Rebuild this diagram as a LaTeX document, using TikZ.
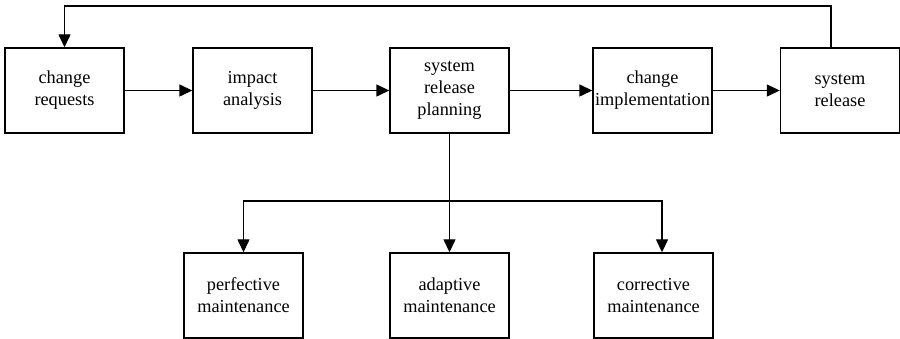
\documentclass[tikz,border=0pt]{standalone}
\usepackage{fontspec}
\setmainfont{Liberation Serif}
\usetikzlibrary{arrows.meta,calc}
\begin{document}
\begin{tikzpicture}[x=1pt,y=1pt,
  box/.style={draw,line width=1.4pt,minimum width=119pt,minimum height=85pt,inner sep=0pt,align=center,
    font=\fontsize{18.3}{22}\selectfont},
  conn/.style={line width=1.4pt},
  arr/.style={conn,-{Triangle[length=13pt,width=12pt]}}]
\useasboundingbox (0,0) rectangle (900,339);
% top row (y = 339 - 90.5)
\node[box] (cr)  at (64.5,248.5) {change\\requests};
\node[box] (ia)  at (252.5,248.5) {impact\\analysis};
\node[box] (srp) at (449.5,248.5) {system\\release\\planning};
\node[box] (ci)  at (652.5,248.5) {change\\implementation};
\node[box] (sr)  at (840,248.5) {system\\release};
% bottom row (y = 339 - 295.5)
\node[box] (pm) at (243.5,43.5) {perfective\\maintenance};
\node[box] (am) at (449.5,43.5) {adaptive\\maintenance};
\node[box] (cm) at (653.5,43.5) {corrective\\maintenance};
% horizontal flow
\draw[arr] (cr) -- (ia);
\draw[arr] (ia) -- (srp);
\draw[arr] (srp) -- (ci);
\draw[arr] (ci) -- (sr);
% feedback
\coordinate (fb) at ($(sr.north)+(-9,0)$);
\coordinate (top) at (0,333);
\draw[arr] (fb) -- (fb |- top) -- (cr.north |- top) -- (cr.north);
% branch
\coordinate (br) at (449.5,138);
\coordinate (cx) at (662,138);
\draw[arr] (srp.south) -- (am.north);
\draw[arr] (br) -| (pm.north);
\draw[arr] (br) -- (cx) -- (cx |- cm.north);
\end{tikzpicture}
\end{document}
